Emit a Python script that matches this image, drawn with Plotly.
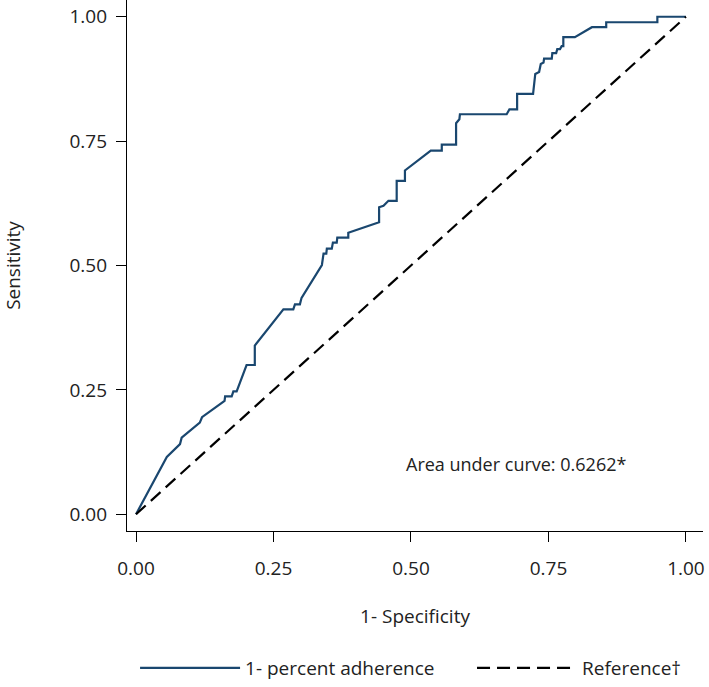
import plotly.graph_objects as go

# ROC curve points (1-specificity, sensitivity)
fpr = [0.0, 0.056, 0.080, 0.083, 0.116, 0.120, 0.161, 0.162, 0.174, 0.177, 0.183,
       0.201, 0.216, 0.216, 0.268, 0.286, 0.289, 0.298, 0.301, 0.338, 0.341, 0.346,
       0.347, 0.356, 0.358, 0.365, 0.366, 0.386, 0.386, 0.442, 0.442, 0.450, 0.459,
       0.474, 0.474, 0.489, 0.489, 0.536, 0.556, 0.556, 0.582, 0.582, 0.588, 0.589,
       0.674, 0.679, 0.693, 0.693, 0.722, 0.726, 0.733, 0.736, 0.741, 0.742, 0.756,
       0.757, 0.764, 0.766, 0.771, 0.774, 0.777, 0.777, 0.798, 0.829, 0.855, 0.855,
       0.948, 0.948, 1.0]
tpr = [0.0, 0.115, 0.141, 0.154, 0.184, 0.195, 0.228, 0.237, 0.237, 0.247, 0.247,
       0.300, 0.300, 0.339, 0.412, 0.412, 0.422, 0.422, 0.435, 0.501, 0.524, 0.524,
       0.534, 0.534, 0.546, 0.546, 0.556, 0.556, 0.566, 0.587, 0.617, 0.620, 0.630,
       0.630, 0.670, 0.670, 0.691, 0.731, 0.731, 0.743, 0.743, 0.786, 0.794, 0.804,
       0.804, 0.814, 0.814, 0.845, 0.845, 0.885, 0.889, 0.905, 0.908, 0.916, 0.916,
       0.927, 0.927, 0.935, 0.935, 0.941, 0.941, 0.959, 0.959, 0.979, 0.979, 0.989,
       0.989, 1.0, 1.0]
ref_x = [0.0, 1.0]
ref_y = [0.0, 1.0]
tick_vals = [0.0, 0.25, 0.5, 0.75, 1.0]
tick_text = ["0.00", "0.25", "0.50", "0.75", "1.00"]
auc_text = "Area under curve: 0.6262*"

FONT = "Open Sans"
TXT = "#222222"
FS = 19

fig = go.Figure()
fig.add_trace(go.Scatter(x=fpr, y=tpr, mode="lines", name="1- percent adherence",
                         line=dict(color="#1a476f", width=2.2), legend="legend"))
fig.add_trace(go.Scatter(x=ref_x, y=ref_y, mode="lines", name="Reference\u2020",
                         line=dict(color="black", width=2.2, dash="13px,7px"),
                         legend="legend2"))

fig.add_annotation(x=0.895, y=0.101, xref="x", yref="y", text=auc_text,
                   showarrow=False, xanchor="right", yanchor="middle",
                   font=dict(family=FONT, size=18, color=TXT))

axis_common = dict(showgrid=False, zeroline=False, showline=True, linecolor="black",
                   linewidth=1.3, ticks="outside", ticklen=10, tickwidth=1.3,
                   tickcolor="black", tickvals=tick_vals, ticktext=tick_text,
                   tickfont=dict(family=FONT, size=FS, color=TXT), automargin=False)

fig.update_xaxes(range=[-0.0164, 1.031], ticklabelstandoff=10,
                 title=dict(text="1- Specificity", standoff=29,
                            font=dict(family=FONT, size=FS, color=TXT)),
                 **axis_common)
fig.update_yaxes(range=[-0.0337, 1.0337], ticklabelstandoff=5,
                 title=dict(text="Sensitivity", standoff=50,
                            font=dict(family=FONT, size=FS, color=TXT)),
                 **axis_common)

leg_common = dict(orientation="h", yanchor="middle", xanchor="left", y=-0.258,
                  font=dict(family=FONT, size=FS, color=TXT), itemwidth=100,
                  bgcolor="rgba(0,0,0,0)")
fig.update_layout(
    width=709, height=687,
    margin=dict(l=127, r=6, t=0, b=143),
    plot_bgcolor="white", paper_bgcolor="white",
    showlegend=True,
    legend=dict(x=0.014, **leg_common),
    legend2=dict(x=0.599, **leg_common),
)

post = ("document.documentElement.style.margin='0';"
        "document.documentElement.style.overflow='hidden';"
        "document.documentElement.style.height='687px';"
        "document.body.style.margin='0';"
        "document.body.style.overflow='hidden';"
        "document.body.style.height='687px';")
fig.write_html("out.html", post_script=post, config={"displayModeBar": False})
